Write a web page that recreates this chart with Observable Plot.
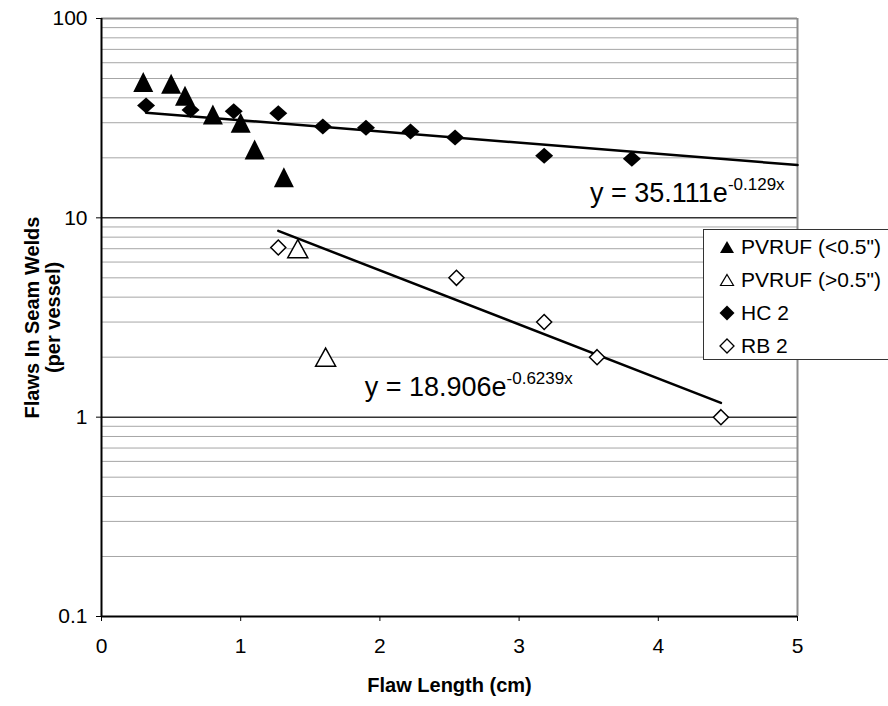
<!DOCTYPE html>
<html><head><meta charset="utf-8">
<script src="https://cdn.jsdelivr.net/npm/d3@7"></script>
<script src="https://cdn.jsdelivr.net/npm/@observablehq/plot@0.6"></script>
<style>
body{margin:0;background:#fff;overflow:hidden}
#wrap{position:relative;width:888px;height:706px;overflow:hidden;font-family:"Liberation Sans",Arial,sans-serif}
#legend{position:absolute;left:703px;top:229px;width:200px;height:131px;background:#fff;border:1px solid #333;box-sizing:border-box}
.row{position:absolute;left:0;height:33px;display:flex;align-items:center;font-size:21px;color:#000;white-space:nowrap}
.row svg{margin-left:15px;margin-right:6px}
</style></head><body><div id="wrap"></div>
<script>
// ---- data ----
const seriesNames = ['PVRUF (<0.5")', 'PVRUF (>0.5")', 'HC 2', 'RB 2'];
const pvrufSmallX = [0.30, 0.50, 0.60, 0.80, 1.00, 1.10, 1.31];
const pvrufSmallY = [48, 47, 41, 33, 30, 22, 16];
const pvrufLargeX = [1.41, 1.61];
const pvrufLargeY = [7, 2];
const hc2X = [0.32, 0.64, 0.95, 1.27, 1.59, 1.90, 2.22, 2.54, 3.18, 3.81];
const hc2Y = [36.6, 34.8, 34.3, 33.5, 28.7, 28.3, 27.1, 25.3, 20.5, 19.8];
const rb2X = [1.27, 2.55, 3.18, 3.56, 4.45];
const rb2Y = [7.1, 5.0, 3.0, 2.0, 1.0];
// fitted trend lines (straight on a log-y axis): end points
const hc2TrendX = [0.32, 5.0];
const hc2TrendY = [33.7, 18.4];
const rb2TrendX = [1.27, 4.45];
const rb2TrendY = [8.6, 1.18];
// equation labels
const eqText = ["y = 35.111e", "y = 18.906e"];
const eqExp = ["-0.129x", "-0.6239x"];
const eqX = [4.50, 2.91];
const eqY = [13.2, 1.41];
// axes
const xTicks = [0, 1, 2, 3, 4, 5];
const yTicks = [0.1, 1, 10, 100];
const xTitle = "Flaw Length (cm)";
const yTitle = "Flaws In Seam Welds\n(per vessel)";

// ---- helpers ----
const pts = (xs, ys) => xs.map((x, i) => ({x, y: ys[i]}));
const tri = (w, h) => ({draw(c) { c.moveTo(0, -h / 2); c.lineTo(w / 2, h / 2); c.lineTo(-w / 2, h / 2); c.closePath(); }});
const dia = (w, h) => ({draw(c) { c.moveTo(0, -h / 2); c.lineTo(w / 2, 0); c.lineTo(0, h / 2); c.lineTo(-w / 2, 0); c.closePath(); }});
const minorGrid = yTicks.slice(0, 3).flatMap(t => d3.range(2, 10).map(k => +(k * t).toPrecision(6)));
const eqs = eqText.map((t, i) => ({t, e: eqExp[i], x: eqX[i], y: eqY[i]}));

const chart = Plot.plot({
  width: 888, height: 706,
  marginTop: 18, marginRight: 91, marginBottom: 90, marginLeft: 101,
  x: {domain: [0, 5]},
  y: {type: "log", domain: [0.1, 100]},
  style: {fontFamily: '"Liberation Sans", Arial, sans-serif', fontSize: "21px", background: "#fff", color: "#000"},
  marks: [
    Plot.ruleY(minorGrid, {stroke: "#a6a6a6", strokeWidth: 1}),
    Plot.ruleY([1, 10], {stroke: "#333", strokeWidth: 1.5}),
    Plot.ruleY([100], {stroke: "#8c8c8c", strokeWidth: 2}),
    Plot.ruleX([5], {stroke: "#8c8c8c", strokeWidth: 2}),
    Plot.axisY({ticks: yTicks, tickFormat: d => String(d), tickSize: 5, tickPadding: 9, label: null, fontSize: 21, letterSpacing: 1}),
    Plot.axisX({ticks: xTicks, tickFormat: d => String(d), tickSize: 5, tickPadding: 17, label: null, fontSize: 21, letterSpacing: 1}),
    Plot.ruleX([0], {stroke: "#000", strokeWidth: 2}),
    Plot.ruleY([0.1], {stroke: "#000", strokeWidth: 2}),
    Plot.line(pts(hc2TrendX, hc2TrendY), {x: "x", y: "y", stroke: "#000", strokeWidth: 2.5}),
    Plot.line(pts(rb2TrendX, rb2TrendY), {x: "x", y: "y", stroke: "#000", strokeWidth: 2.5}),
    Plot.dot(pts(pvrufSmallX, pvrufSmallY), {x: "x", y: "y", symbol: tri(20, 20), fill: "#000", r: 7}),
    Plot.dot(pts(pvrufLargeX, pvrufLargeY), {x: "x", y: "y", symbol: tri(20, 18), fill: "#fff", stroke: "#000", strokeWidth: 1.5, r: 7}),
    Plot.dot(pts(hc2X, hc2Y), {x: "x", y: "y", symbol: dia(18, 16), fill: "#000", r: 6}),
    Plot.dot(pts(rb2X, rb2Y), {x: "x", y: "y", symbol: dia(15, 15), fill: "#fff", stroke: "#000", strokeWidth: 1.5, r: 6}),
    Plot.text(eqs, {x: "x", y: "y", text: "t", textAnchor: "end", fontSize: 27}),
    Plot.text(eqs, {x: "x", y: "y", text: "e", textAnchor: "start", fontSize: 17, dy: -9}),
    Plot.text([xTitle], {frameAnchor: "bottom", dy: 75, fontSize: 20, fontWeight: "bold", letterSpacing: 1.6}),
    Plot.text([yTitle], {frameAnchor: "left", textAnchor: "middle", dx: -59, rotate: -90, fontSize: 20, fontWeight: "bold", lineHeight: 1.05, letterSpacing: 0.6})
  ]
});
const wrap = document.getElementById("wrap");
wrap.appendChild(chart);

// legend (overlaps the plot area like the original)
const legend = document.createElement("div");
legend.id = "legend";
const legendSym = [
  '<svg width="16" height="14"><path d="M8,1L15,13L1,13Z" fill="#000"/></svg>',
  '<svg width="16" height="14"><path d="M8,1.5L14.5,12.5L1.5,12.5Z" fill="#fff" stroke="#000" stroke-width="1.2"/></svg>',
  '<svg width="16" height="16"><path d="M8,0.5L15.5,8L8,15.5L0.5,8Z" fill="#000"/></svg>',
  '<svg width="16" height="16"><path d="M8,1L15,8L8,15L1,8Z" fill="#fff" stroke="#000" stroke-width="1.3"/></svg>'
];
seriesNames.forEach((name, i) => {
  const row = document.createElement("div");
  row.className = "row";
  row.style.top = (i * 33) + "px";
  row.innerHTML = legendSym[i];
  const span = document.createElement("span");
  span.textContent = name;
  row.appendChild(span);
  legend.appendChild(row);
});
wrap.appendChild(legend);
</script>
</body></html>
